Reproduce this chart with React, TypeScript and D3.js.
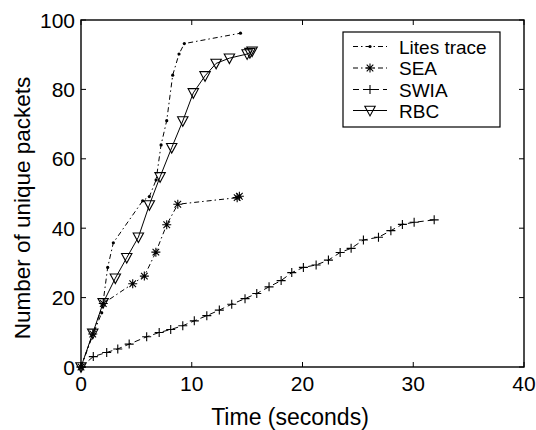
import React from "react";
import * as d3 from "d3";

// ---- data ----
const litesX = [0, 1.1, 1.87, 2.41, 2.92, 5.57, 6.17, 6.78, 7.23, 7.74, 8.28, 8.85, 9.33, 14.4];
const litesY = [0, 9.5, 15.6, 28.7, 35.8, 47.9, 49.1, 53.9, 64.0, 71.0, 84.1, 90.2, 93.2, 96.2];

const seaX = [0, 1.06, 2.01, 4.67, 5.72, 6.76, 7.74, 8.74, 14.1, 14.3];
const seaY = [0, 9.5, 18.3, 24.0, 26.2, 33.1, 41.0, 46.9, 48.8, 49.2];

const swiaX = [0, 1.11, 2.32, 3.32, 4.35, 5.93, 7.06, 8.1, 9.19, 10.23, 11.36, 12.49, 13.61, 14.81, 15.87, 16.98, 18.07, 19.03, 20.08, 21.23, 22.34, 23.4, 24.39, 25.5, 26.86, 27.98, 29.02, 30.08, 31.89];
const swiaY = [0, 3.0, 4.2, 5.2, 6.6, 8.7, 9.95, 10.8, 11.9, 13.3, 14.8, 16.4, 18.1, 19.7, 21.2, 23.1, 24.9, 27.2, 28.7, 29.4, 30.8, 33.0, 34.2, 36.6, 37.4, 39.3, 41.1, 41.7, 42.4];

const rbcX = [0, 1.06, 2.0, 3.1, 4.13, 5.18, 6.17, 7.14, 8.19, 9.19, 10.14, 11.2, 12.2, 13.4, 15.0, 15.25, 15.45];
const rbcY = [0, 9.7, 18.5, 25.6, 31.5, 37.4, 46.7, 54.8, 63.2, 70.9, 79.0, 83.9, 87.5, 89.0, 90.2, 90.6, 91.0];

const xTicks = [0, 10, 20, 30, 40];
const yTicks = [0, 20, 40, 60, 80, 100];
const legendLabels = ["Lites trace", "SEA", "SWIA", "RBC"];
const xLabel = "Time (seconds)";
const yLabel = "Number of unique packets";

// ---- layout ----
const W = 536;
const H = 430;
const L = 81, R = 524, T = 20, B = 367;
const FONT = "'Liberation Sans', Arial, Helvetica, sans-serif";

type Marker = "dot" | "star" | "plus" | "tri";

function markerPath(kind: Marker, cx: number, cy: number): string {
  if (kind === "plus") {
    const r = 4.5;
    return `M${cx - r},${cy}H${cx + r}M${cx},${cy - r}V${cy + r}`;
  }
  if (kind === "star") {
    const r = 4.5, d = 3.3;
    return `M${cx - r},${cy}H${cx + r}M${cx},${cy - r}V${cy + r}M${cx - d},${cy - d}L${cx + d},${cy + d}M${cx - d},${cy + d}L${cx + d},${cy - d}`;
  }
  if (kind === "tri") {
    return `M${cx - 5.2},${cy - 4.2}L${cx + 5.2},${cy - 4.2}L${cx},${cy + 5.4}Z`;
  }
  return "";
}

export default function App() {
  const x = d3.scaleLinear().domain([0, 40]).range([L, R]);
  const y = d3.scaleLinear().domain([0, 100]).range([B, T]);

  const series: { xs: number[]; ys: number[]; dash: string; marker: Marker }[] = [
    { xs: litesX, ys: litesY, dash: "5,3,1.5,3", marker: "dot" },
    { xs: seaX, ys: seaY, dash: "5,3,1.5,3", marker: "star" },
    { xs: swiaX, ys: swiaY, dash: "6,4", marker: "plus" },
    { xs: rbcX, ys: rbcY, dash: "", marker: "tri" },
  ];

  const line = d3
    .line<[number, number]>()
    .x((d) => x(d[0]))
    .y((d) => y(d[1]));

  const tickLen = 5;
  const legX = 343, legY = 32, legW = 157, legH = 95;
  const legRows = [46.5, 68, 89.5, 110.5];

  return (
    <svg width={W} height={H} style={{ display: "block", position: "absolute", left: 0, top: 0, background: "#fff" }}>
      <rect x={0} y={0} width={W} height={H} fill="#fff" />
      {/* ticks */}
      {xTicks.map((t) => (
        <g key={"xt" + t}>
          <line x1={x(t)} x2={x(t)} y1={B} y2={B - tickLen} stroke="#000" strokeWidth={1} />
          <line x1={x(t)} x2={x(t)} y1={T} y2={T + tickLen} stroke="#000" strokeWidth={1} />
          <text x={x(t)} y={390.5} textAnchor="middle" fontFamily={FONT} fontSize={21} fill="#000">
            {t}
          </text>
        </g>
      ))}
      {yTicks.map((t) => (
        <g key={"yt" + t}>
          <line x1={L} x2={L + tickLen} y1={y(t)} y2={y(t)} stroke="#000" strokeWidth={1} />
          <line x1={R} x2={R - tickLen} y1={y(t)} y2={y(t)} stroke="#000" strokeWidth={1} />
          <text x={75} y={y(t) + 7.5} textAnchor="end" fontFamily={FONT} fontSize={21} fill="#000">
            {t}
          </text>
        </g>
      ))}
      {/* series */}
      {series.map((s, i) => {
        const pts = s.xs.map((v, j) => [v, s.ys[j]] as [number, number]);
        return (
          <g key={"s" + i}>
            <path d={line(pts) || ""} fill="none" stroke="#000" strokeWidth={1} strokeDasharray={s.dash || undefined} />
            {pts.map((p, j) =>
              s.marker === "dot" ? (
                <circle key={j} cx={x(p[0])} cy={y(p[1])} r={1.6} fill="#000" />
              ) : (
                <path key={j} d={markerPath(s.marker, x(p[0]), y(p[1]))} fill="none" stroke="#000" strokeWidth={1.1} />
              )
            )}
          </g>
        );
      })}
      {/* frame */}
      <rect x={L} y={T} width={R - L} height={B - T} fill="none" stroke="#000" strokeWidth={1.4} />
      {/* legend */}
      <rect x={legX} y={legY} width={legW} height={legH} fill="#fff" stroke="#000" strokeWidth={1.2} />
      {series.map((s, i) => {
        const cy = legRows[i];
        return (
          <g key={"lg" + i}>
            <line x1={353} x2={387} y1={cy} y2={cy} stroke="#000" strokeWidth={1} strokeDasharray={s.dash || undefined} />
            {s.marker === "dot" ? (
              <circle cx={370} cy={cy} r={1.6} fill="#000" />
            ) : (
              <path d={markerPath(s.marker, 370, cy)} fill="none" stroke="#000" strokeWidth={1.1} />
            )}
            <text x={399} y={cy + 7} fontFamily={FONT} fontSize={19} fill="#000">
              {legendLabels[i]}
            </text>
          </g>
        );
      })}
      {/* axis labels */}
      <text x={290} y={425} textAnchor="middle" fontFamily={FONT} fontSize={23} fill="#000">
        {xLabel}
      </text>
      <text
        transform={`translate(30,208) rotate(-90)`}
        textAnchor="middle"
        fontFamily={FONT}
        fontSize={22.5}
        fill="#000"
      >
        {yLabel}
      </text>
    </svg>
  );
}
